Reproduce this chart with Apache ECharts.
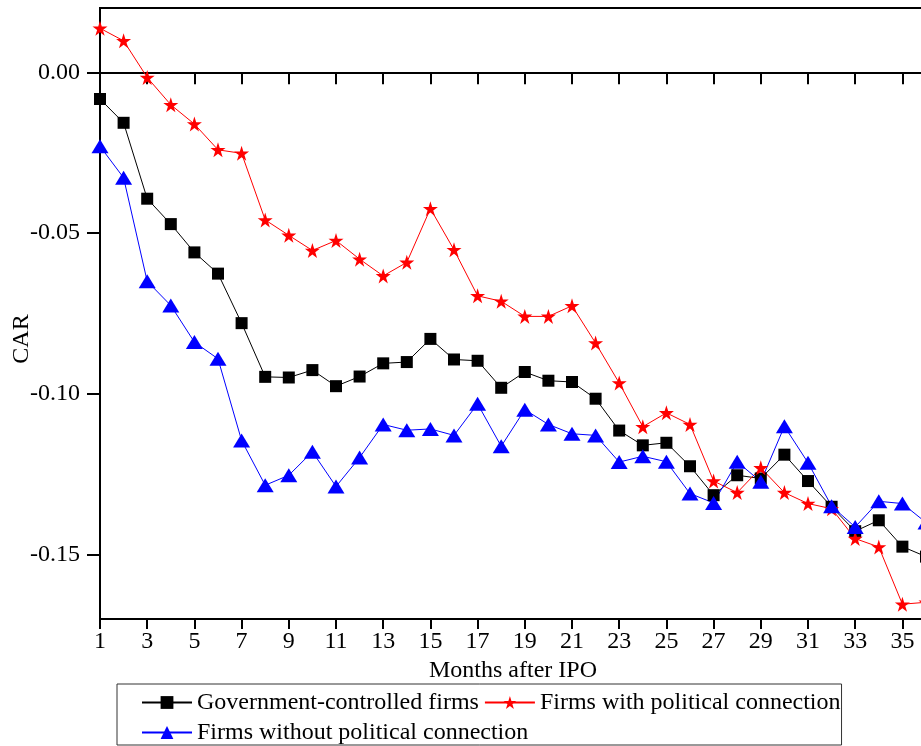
<!DOCTYPE html>
<html>
<head>
<meta charset="utf-8">
<script src="https://cdn.jsdelivr.net/npm/echarts@6/dist/echarts.min.js"></script>
<style>
html,body{margin:0;padding:0;background:#fff;overflow:hidden;width:921px;height:746px;}
#chart{width:926px;height:746px;}
</style>
</head>
<body>
<div id="chart"></div>
<script>
var months = [1,2,3,4,5,6,7,8,9,10,11,12,13,14,15,16,17,18,19,20,21,22,23,24,25,26,27,28,29,30,31,32,33,34,35,36];
var govControlled = [-0.0083,-0.0157,-0.0393,-0.0472,-0.0560,-0.0626,-0.0780,-0.0947,-0.0949,-0.0926,-0.0976,-0.0946,-0.0905,-0.0901,-0.0829,-0.0893,-0.0897,-0.0981,-0.0932,-0.0959,-0.0963,-0.1015,-0.1114,-0.1160,-0.1152,-0.1225,-0.1315,-0.1253,-0.1263,-0.1189,-0.1271,-0.1351,-0.1427,-0.1393,-0.1475,-0.1506];
var withPolitical = [0.0137,0.0098,-0.0016,-0.0101,-0.0161,-0.0241,-0.0252,-0.0459,-0.0507,-0.0554,-0.0523,-0.0581,-0.0633,-0.0591,-0.0424,-0.0552,-0.0695,-0.0712,-0.0759,-0.0759,-0.0726,-0.0842,-0.0966,-0.1102,-0.1059,-0.1095,-0.1271,-0.1307,-0.1230,-0.1307,-0.1341,-0.1357,-0.1450,-0.1476,-0.1654,-0.1648];
var withoutPolitical = [-0.0230,-0.0328,-0.0650,-0.0725,-0.0839,-0.0891,-0.1145,-0.1284,-0.1253,-0.1180,-0.1288,-0.1198,-0.1095,-0.1113,-0.1109,-0.1129,-0.1031,-0.1163,-0.1049,-0.1095,-0.1124,-0.1129,-0.1212,-0.1194,-0.1211,-0.1310,-0.1339,-0.1211,-0.1273,-0.1101,-0.1214,-0.1349,-0.1414,-0.1334,-0.1341,-0.1400];
var xTickValues = [1,3,5,7,9,11,13,15,17,19,21,23,25,27,29,31,33,35];
var yTickValues = [-0.15,-0.10,-0.05,0];
var seriesNames = ['Government-controlled firms','Firms with political connection','Firms without political connection'];

var X_MIN = 1, X_MAX = 36, X_STEP = 2, Y_MIN = -0.17, Y_MAX = 0.02;
var GRID_TOP = 8, GRID_BOTTOM = 127, CHART_H = 746;
var FONT = "'Liberation Serif','Times New Roman',serif";
var STAR = 'path://M50 0 L61.23 34.55 L97.55 34.55 L68.17 55.9 L79.39 90.45 L50 69.1 L20.61 90.45 L31.83 55.9 L2.45 34.55 L38.77 34.55 Z';

function pairs(vals){ return months.map(function(m,i){ return [m, vals[i]]; }); }

// second x axis drawn along the y = 0 line
var gridH = CHART_H - GRID_TOP - GRID_BOTTOM;
var zeroOffset = -(Y_MAX - 0) / (Y_MAX - Y_MIN) * gridH;

var chart = echarts.init(document.getElementById('chart'), null, {renderer:'canvas'});
chart.setOption({
  animation:false,
  backgroundColor:'#fff',
  grid:{left:100, right:0, top:GRID_TOP, bottom:GRID_BOTTOM, show:true, borderColor:'#000', borderWidth:2, backgroundColor:'transparent'},
  xAxis:[{
    type:'value', min:X_MIN, max:X_MAX, interval:X_STEP, position:'bottom',
    name:'Months after IPO', nameLocation:'middle', nameGap:36,
    nameTextStyle:{fontFamily:FONT, fontSize:24, color:'#000'},
    axisLine:{show:true, onZero:false, lineStyle:{color:'#000', width:2}},
    axisTick:{show:true, length:10, lineStyle:{color:'#000', width:2}},
    axisLabel:{fontFamily:FONT, fontSize:24, color:'#000', margin:11, customValues:xTickValues},
    splitLine:{show:false}
  },{
    type:'value', min:X_MIN, max:X_MAX, interval:X_STEP, position:'top', offset:zeroOffset,
    axisLine:{show:true, onZero:false, lineStyle:{color:'#000', width:2}},
    axisTick:{show:true, inside:true, length:12, lineStyle:{color:'#000', width:2}},
    axisLabel:{show:false},
    splitLine:{show:false}
  }],
  yAxis:{
    type:'value', min:Y_MIN, max:Y_MAX,
    axisLine:{show:true, onZero:false, lineStyle:{color:'#000', width:2}},
    axisTick:{show:true, length:13, lineStyle:{color:'#000', width:2}, customValues:yTickValues},
    axisLabel:{fontFamily:FONT, fontSize:24, color:'#000', margin:20, customValues:yTickValues,
      formatter:function(v){ return v.toFixed(2); }},
    splitLine:{show:false}
  },
  graphic:[{
    type:'text', x:22, y:339, rotation:Math.PI/2,
    style:{text:'CAR', fontFamily:FONT, fontSize:24, fill:'#000', align:'center', verticalAlign:'middle'}
  }],
  legend:{
    left:117, top:684, width:708, orient:'horizontal',
    padding:[6,1,0,24], itemGap:5, itemWidth:50, itemHeight:16,
    borderColor:'#333', borderWidth:1,
    textStyle:{fontFamily:FONT, fontSize:24, color:'#000', lineHeight:25},
    data:seriesNames
  },
  series:[{
    name:seriesNames[0], type:'line', xAxisIndex:0, data:pairs(govControlled),
    symbol:'rect', symbolSize:12, showAllSymbol:true,
    lineStyle:{color:'#000', width:1}, itemStyle:{color:'#000'}
  },{
    name:seriesNames[1], type:'line', xAxisIndex:0, data:pairs(withPolitical),
    symbol:STAR, symbolSize:15, showAllSymbol:true,
    lineStyle:{color:'#ff0000', width:1}, itemStyle:{color:'#ff0000'}
  },{
    name:seriesNames[2], type:'line', xAxisIndex:0, data:pairs(withoutPolitical),
    symbol:'triangle', symbolSize:[17,14], showAllSymbol:true,
    lineStyle:{color:'#0000ff', width:1}, itemStyle:{color:'#0000ff'}
  }]
});
</script>
</body>
</html>
